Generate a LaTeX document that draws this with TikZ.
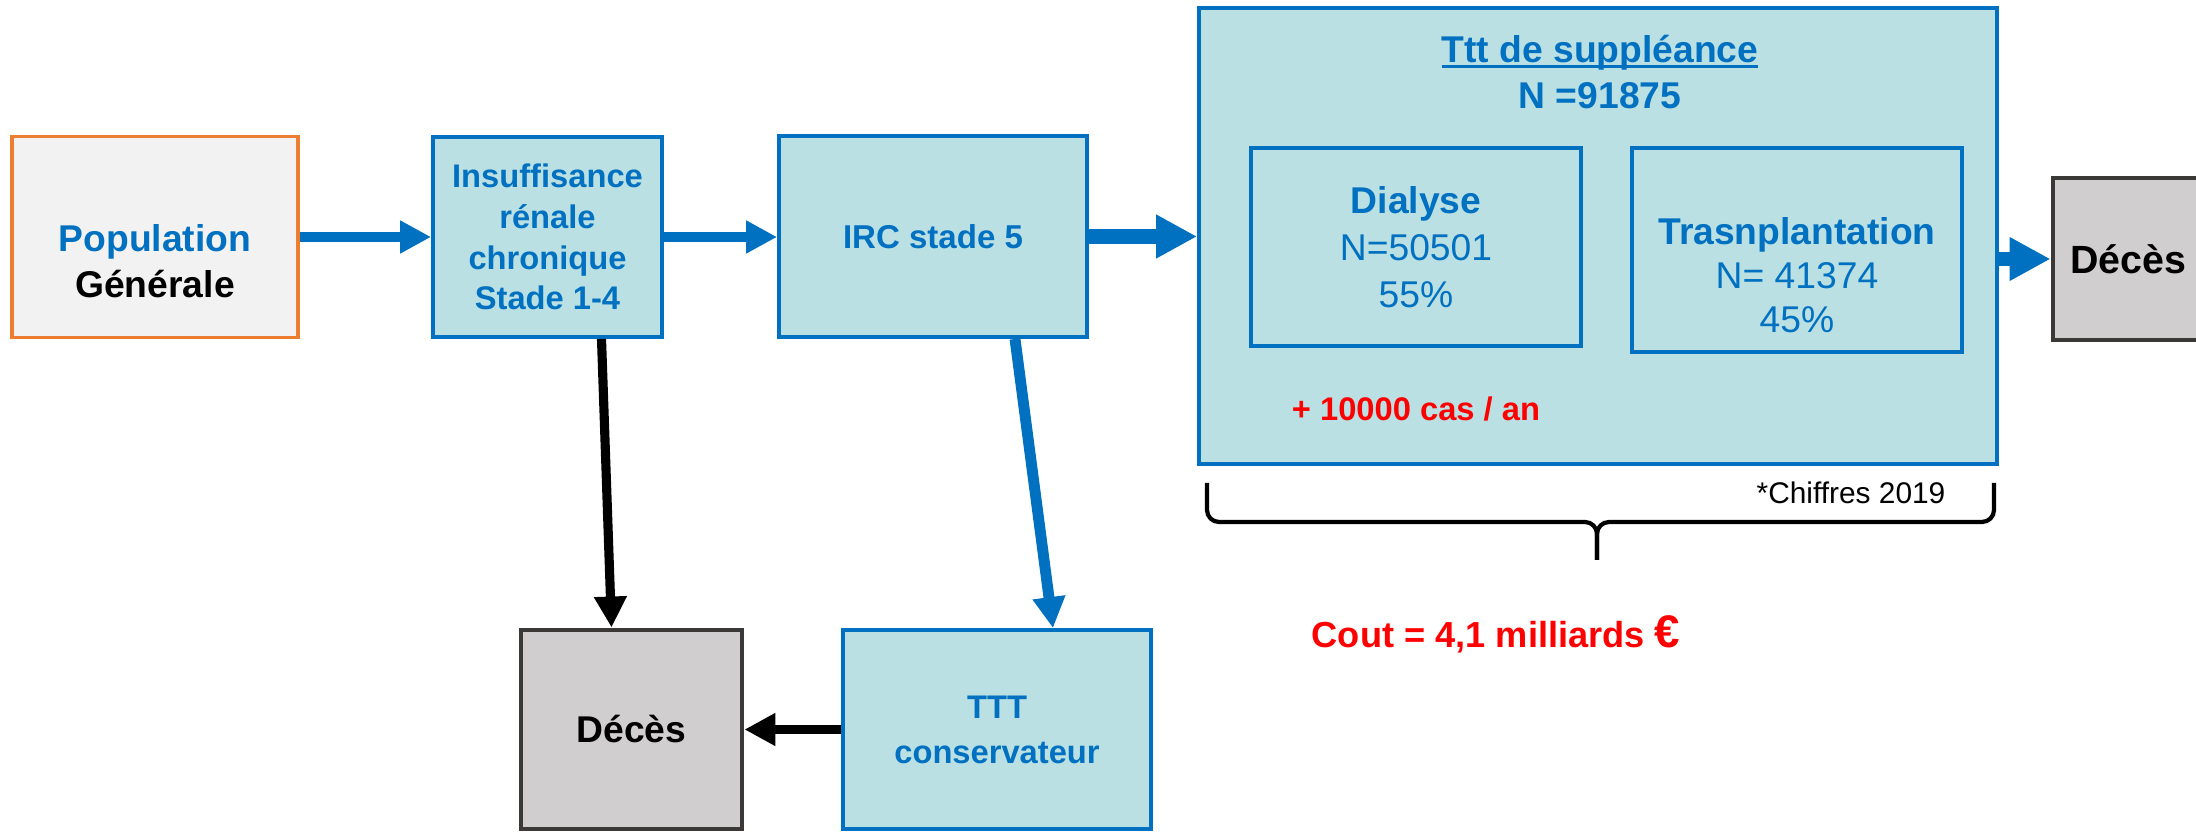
\documentclass[tikz,border=0pt]{standalone}
\usepackage{fontspec}
\setmainfont{Liberation Sans}
\usepackage{xcolor}
\usepackage{tikz}
\usetikzlibrary{arrows.meta,positioning,calc}
\definecolor{bleu}{HTML}{0070C0}
\definecolor{fond}{HTML}{BAE0E3}
\definecolor{orange}{HTML}{ED7D31}
\definecolor{clair}{HTML}{F2F2F2}
\definecolor{gris}{HTML}{D0CECE}
\definecolor{grisbord}{HTML}{3B3838}
\definecolor{rouge}{HTML}{FF0000}
\newcommand{\taille}[2]{\fontsize{#1}{#2}\selectfont}
\newcommand{\souligne}[1]{\setbox0\hbox{#1}\rlap{\rule[-1.6pt]{\wd0}{0.9pt}}#1}

\begin{document}
\begin{tikzpicture}[
  box/.style={draw=bleu, line width=1.1pt, fill=fond, text=bleu, align=center, inner sep=2pt},
  mort/.style={draw=grisbord, line width=1.4pt, fill=gris, align=center,
               font=\bfseries\taille{10.6}{13}},
  txt/.style={align=center, inner sep=0pt},
  ar/.style={-{Triangle[length=3.1mm,width=3.1mm]}, line width=3.1pt, color=bleu},
  gros/.style={-{Triangle[length=4.1mm,width=4.1mm]}, line width=4pt, color=bleu},
  arn/.style={-{Triangle[length=3.1mm,width=3.1mm]}, line width=2.6pt, color=black},
  accol/.style={line width=1.2pt, rounded corners=1.2mm}]
\useasboundingbox (0,0) rectangle (21.96,8.31);
% boites de la ligne du haut
\node[box, draw=orange, fill=clair, minimum width=2.86cm, minimum height=2.01cm] (pop) at (1.55,5.94) {};
\node[txt, font=\bfseries\taille{10.6}{13}] (poptxt) at (1.55,5.70) {\textcolor{bleu}{Population}\\Générale};
\node[box, font=\bfseries\taille{9.3}{11.6}, minimum width=2.29cm, minimum height=2cm] (ins) at (5.475,5.94)
  {Insuffisance\\rénale\\chronique\\Stade 1-4};
\node[box, font=\bfseries\taille{9.4}{11.6}, minimum width=3.08cm, minimum height=2.01cm] (irc) at (9.33,5.945) {IRC stade 5};
\node[box, minimum width=7.98cm, minimum height=4.56cm] (ttt) at (15.98,5.95) {};
\node[txt, text=bleu, font=\bfseries\taille{10.6}{13}] (ttttxt) at (16.0,7.59) {\souligne{Ttt de suppléance}\\N =91875};
\node[box, line width=1.3pt, font=\taille{10.6}{13.4}, minimum width=3.3cm, minimum height=1.98cm] (dia) at (14.16,5.84)
  {{\bfseries Dialyse}\\N=50501\\55\%};
\node[box, line width=1.3pt, minimum width=3.3cm, minimum height=2.04cm] (tra) at (17.97,5.81) {};
\node[txt, text=bleu, font=\taille{10.6}{12.6}] (tratxt) at (17.97,5.56) {{\bfseries Trasnplantation}\\N= 41374\\45\%};
\node[txt, text=rouge, font=\bfseries\taille{9.3}{11}] (cas) at (14.16,4.22) {+ 10000 cas / an};
\node[mort, font=\bfseries\taille{11.2}{13}, minimum width=1.5cm, minimum height=1.62cm] (dec1) at (21.28,5.72) {Décès};
% ligne du bas
\node[mort, minimum width=2.21cm, minimum height=1.99cm] (dec2) at (6.315,1.015) {Décès};
\node[box, font=\bfseries\taille{9.3}{12.8}, minimum width=3.08cm, minimum height=1.99cm] (cons) at (9.97,1.015)
  {TTT\\conservateur};
% accolade et cout
\coordinate (bg) at (12.07,3.48);
\coordinate (bd) at (19.94,3.48);
\coordinate (bp) at (15.97,2.71);
\draw[accol] (bg) -- (bg |- 0,3.09) -- (bp |- 0,3.09) -- (bp);
\draw[accol] (bd) -- (bd |- 0,3.09) -- (bp |- 0,3.09) -- (bp);
\node[txt, font=\taille{8.5}{10}] (chif) at (18.51,3.38) {*Chiffres 2019};
\node[txt, text=rouge, font=\bfseries\taille{10.3}{12}] (cout) at (14.96,1.97) {Cout = 4,1 milliards {\taille{13}{13}€}};
% fleches
\draw[ar] (pop) -- (ins);
\draw[ar] (ins.east) -- (irc.west |- ins.east);
\draw[gros] (irc.east) -- (irc.east -| ttt.west);
\draw[gros] (dec1.west -| ttt.east) -- (dec1.west);
\draw[arn] ([xshift=5.4mm]ins.south) -- ([xshift=-2mm]dec2.north);
\draw[ar] ([xshift=8.2mm]irc.south) -- ([xshift=5.6mm]cons.north);
\draw[arn] (cons.west) -- (dec2.east);
\end{tikzpicture}
\end{document}
